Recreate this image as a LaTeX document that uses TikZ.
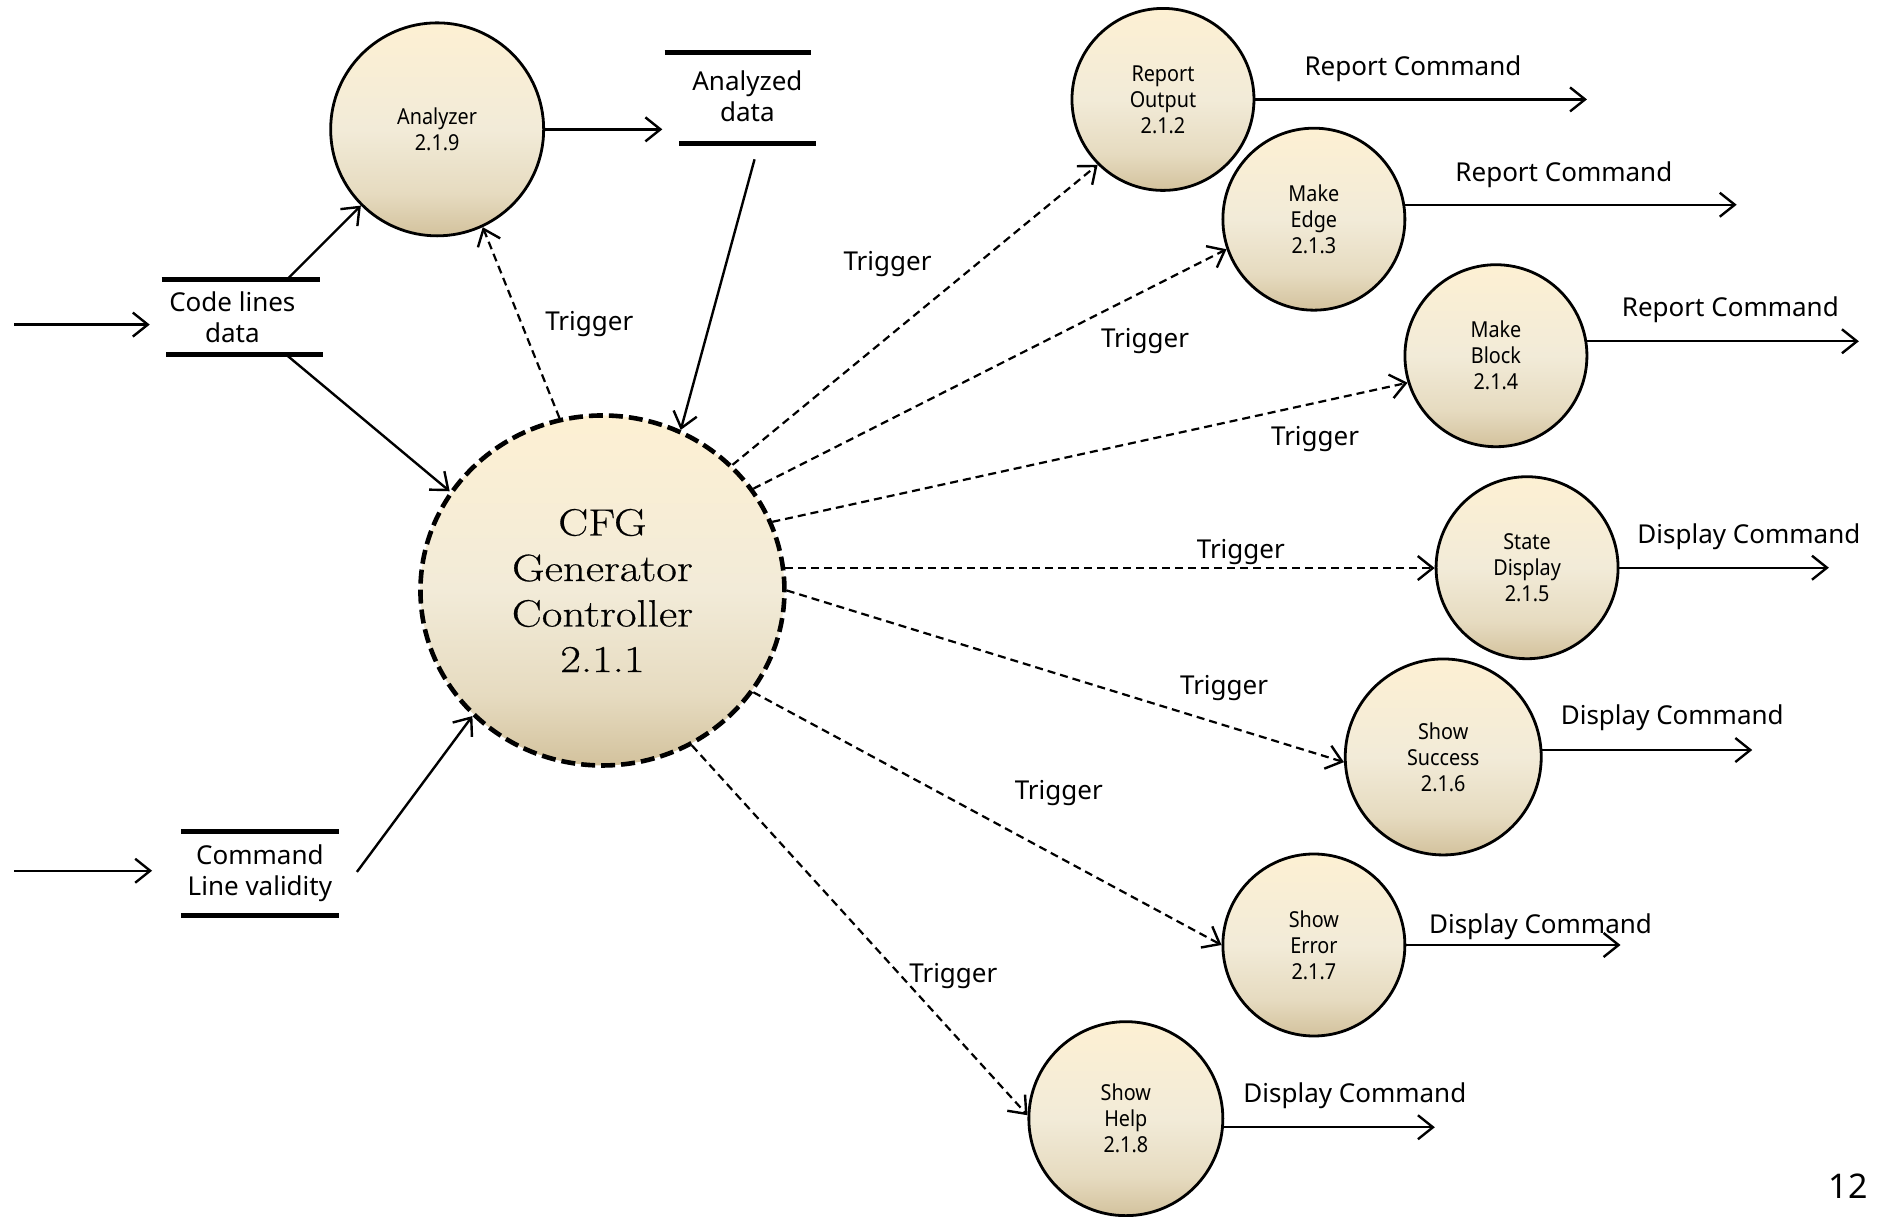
\documentclass[tikz,border=0pt]{standalone}
\usepackage{fontspec}
\newfontfamily\labelfont{Noto Sans}
\newfontfamily\bubblefont[FakeStretch=0.9]{Noto Sans}
\newfontfamily\ctrlfont[FakeStretch=1.18,FakeBold=0.5]{Latin Modern Roman}
\usetikzlibrary{arrows.meta,shapes.geometric}

% process bubble fill: cream at the top, tan towards the bottom
\definecolor{bubA}{HTML}{D3C29D}
\definecolor{bubB}{HTML}{E6DBC0}
\definecolor{bubC}{HTML}{F2EBD8}
\definecolor{bubD}{HTML}{FDF0D3}
\pgfdeclareverticalshading{bubblefill}{100bp}{color(0bp)=(bubA); color(25bp)=(bubA); color(35bp)=(bubB); color(50bp)=(bubC); color(75bp)=(bubD); color(100bp)=(bubD)}

\tikzset{
  bubble/.style={circle, draw=black, line width=2.8pt, shading=bubblefill,
    minimum size=182pt, inner sep=0pt, align=center,
    font=\bubblefont\fontsize{22}{26}\selectfont},
  ctrl/.style={ellipse, draw=black, line width=4.6pt, dash pattern=on 14pt off 6pt,
    shading=bubblefill, minimum width=364pt, minimum height=350pt, inner sep=0pt,
    align=center, font=\ctrlfont\fontsize{38}{45.5}\selectfont},
  flow/.style={line width=2.4pt, -{Straight Barb[length=15pt,width=24pt,line width=2.4pt]}},
  trig/.style={flow, line width=2.2pt, dash pattern=on 8pt off 5pt},
  lbl/.style={font=\labelfont\fontsize{26}{31}\selectfont, inner sep=0pt, align=center},
  tag/.style={lbl, yshift=-3pt},
  bar/.style={line width=5pt},
}

\begin{document}
\begin{tikzpicture}[x=1.1977pt, y=-1.1977pt]
\fill[white] (0,0) rectangle (1568,1016);
\useasboundingbox (0,0) rectangle (1568,1016);

% processes
\node[ctrl] (cfg) at (503,493) {CFG\\Generator\\Controller\\2.1.1};
\node[bubble, minimum size=213pt] (an) at (365,108) {Analyzer\\2.1.9};
\node[bubble] (ro) at (971,83) {Report\\Output\\2.1.2};
\node[bubble] (me) at (1097,183) {Make\\Edge\\2.1.3};
\node[bubble] (mb) at (1249,297) {Make\\Block\\2.1.4};
\node[bubble] (sd) at (1275,474) {State\\Display\\2.1.5};
\node[bubble, minimum size=196pt] (ss) at (1205,632) {Show\\Success\\2.1.6};
\node[bubble] (se) at (1097,789) {Show\\Error\\2.1.7};
\node[bubble, minimum size=194pt] (sh) at (940,934) {Show\\Help\\2.1.8};

% data stores
\node[lbl] (ad) at (624,80) {Analyzed\\data};
\draw[bar] (555,44) -- (677,44);
\draw[bar] (567,120) -- (681,120);
\node[lbl] (cl) at (194,265) {Code lines\\data};
\draw[bar] (135,233) -- (267,233);
\draw[bar] (139,296) -- (270,296);
\node[lbl] (cv) at (217,729) {Command\\Line validity};
\draw[bar] (151,694) -- (283,694);
\draw[bar] (151,764) -- (283,764);

% connector end points
\coordinate (clIn) at (12,271);
\coordinate (clEnd) at (125,271);
\coordinate (cvIn) at (12,727);
\coordinate (cvEnd) at (127,727);
\coordinate (clTop) at (240,233);
\coordinate (clBot) at (240,297);
\coordinate (cvOut) at (298,728);
\coordinate (adOut) at (630,133);
\coordinate (adIn) at (553,108);
\coordinate (roOut) at (1325,83);
\coordinate (meOut) at (1450,171);
\coordinate (mbOut) at (1552,285);
\coordinate (sdOut) at (1527,474);
\coordinate (ssOut) at (1463,626);
\coordinate (seOut) at (1353,789);
\coordinate (shOut) at (1198,941);

% data flows
\draw[flow] (clIn) -- (clEnd);
\draw[flow] (cvIn) -- (cvEnd);
\draw[flow] (an.east) -- (an.east -| adIn);
\draw[flow] (adOut) -- (cfg.64);
\draw[flow] (clTop) -- (an.225);
\draw[flow] (clBot) -- (cfg.147);
\draw[flow] (cvOut) -- (cfg.224);

% triggers
\draw[trig] (cfg.104) -- (an.295);
\draw[trig] (cfg.44) -- (ro.225);
\draw[trig] (cfg.34) -- (me.199);
\draw[trig] (cfg.22) -- (mb.197);
\draw[trig] (cfg.7.5) -- (cfg.7.5 -| sd.west);
\draw[trig] (cfg.0) -- (ss.183);
\draw[trig] (cfg.-34) -- (se.180);
\draw[trig] (cfg.-60) -- (sh.178);

% outputs
\draw[flow] (ro.east) -- (ro.east -| roOut);
\draw[flow] (me.9) -- (me.9 -| meOut);
\draw[flow] (mb.9) -- (mb.9 -| mbOut);
\draw[flow] (sd.east) -- (sd.east -| sdOut);
\draw[flow] (ss.4) -- (ss.4 -| ssOut);
\draw[flow] (se.east) -- (se.east -| seOut);
\draw[flow] (sh.-5) -- (sh.-5 -| shOut);

% labels
\node[tag, anchor=west] (roL) at (1089,55) {Report Command};
\node[tag, anchor=west] (meL) at (1215,143) {Report Command};
\node[tag, anchor=west] (mbL) at (1354,256) {Report Command};
\node[tag, anchor=west] (sdL) at (1367,446) {Display Command};
\node[tag, anchor=west] (ssL) at (1303,597) {Display Command};
\node[tag, anchor=west] (seL) at (1193,771) {Display Command};
\node[tag, anchor=west] (shL) at (1038,912) {Display Command};

\node[tag] (t0) at (492,268) {Trigger};
\node[tag] (t1) at (741,218) {Trigger};
\node[tag] (t2) at (956,282) {Trigger};
\node[tag] (t3) at (1098,364) {Trigger};
\node[tag] (t4) at (1036,458) {Trigger};
\node[tag] (t5) at (1022,572) {Trigger};
\node[tag] (t6) at (884,660) {Trigger};
\node[tag] (t7) at (796,812) {Trigger};

\node[font=\labelfont\fontsize{34}{40}\selectfont, inner sep=0pt] (pg) at (1543,990) {12};
\end{tikzpicture}
\end{document}
